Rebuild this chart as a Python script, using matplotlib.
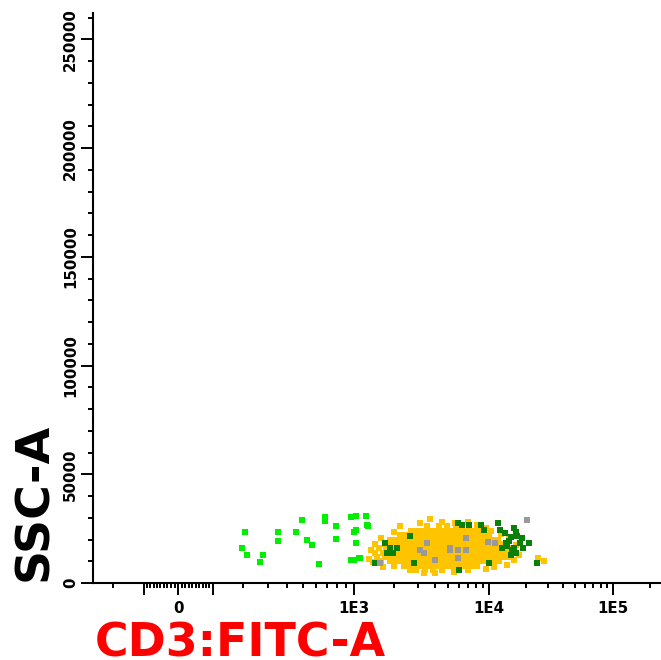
import numpy as np
import matplotlib
matplotlib.use('Agg')
import matplotlib.pyplot as plt

# ---- data (CD3:FITC-A, SSC-A) ----
# bright green population (CD3 low)
brightFitc = [205, 195, 215, 265, 280, 350, 350, 455, 495, 530, 570, 630, 680, 680,
              790, 790, 960, 1030, 1230, 1270, 1000, 1030, 1030, 960, 1000, 1100, 1260, 1110]
brightSsc = [23400, 15900, 12700, 9600, 12700, 23400, 19200, 23400, 29200, 19600, 17600, 8800,
             30300, 28300, 26100, 20300, 30300, 31000, 31000, 26100, 23400, 24200, 18300,
             10700, 10700, 11600, 26500, 11700]

# dark green events, mostly on the right edge of the main cloud
darkFitc = [5900, 6300, 7200, 8700, 9300, 11800, 12300, 13500, 16000, 16600, 15200, 17900,
            16000, 13700, 12900, 19000, 21000, 16600, 15200, 24500, 10000, 6000, 2800,
            1710, 1850, 1970, 1780, 1450, 2620, 2100, 14500, 18500, 14000, 15500, 17000]
darkSsc = [27800, 26500, 26500, 26500, 24200, 27400, 24200, 22800, 25500, 23300, 21000, 18200,
           16300, 18200, 16300, 16300, 18200, 13600, 12700, 9400, 9400, 5750, 9400,
           18200, 16300, 14000, 13600, 9400, 21800, 16300, 19500, 20500, 17000, 15000, 21500]

# gray events inside the cloud
grayFitc = [3500, 3100, 3300, 5200, 5200, 5950, 6800, 6800, 4000, 5950, 11200, 20300, 1570, 9800]
graySsc = [18200, 15000, 13600, 16300, 15000, 15400, 20500, 15000, 10800, 11700, 18600, 29200,
           9400, 19000]

# main (yellow) cloud, one list of FITC values per SSC level
yellowSscLevels = [26000, 24000, 22000, 20000, 18000, 16000, 14000, 12000, 10000, 8000, 6000]
yellowFitcRows = [
    [3500, 4300, 4900, 5700, 6400],
    [2650, 2900, 3200, 3500, 3800, 4150, 4500, 4900, 5350, 5800, 6300, 6900, 7600, 8400],
    [2200, 2450, 2700, 2950, 3250, 3550, 3850, 4200, 4600, 5000, 5450, 5950, 6500, 7100,
     7700, 8400, 9200, 10100],
    [1850, 2050, 2250, 2450, 2700, 2950, 3200, 3500, 3800, 4150, 4550, 4950, 5400, 5900,
     6400, 7000, 7650, 8350, 9100, 9900, 10800, 11800],
    [1700, 1900, 2100, 2300, 2500, 2750, 3000, 3250, 3550, 3900, 4250, 4650, 5050, 5500,
     6000, 6550, 7150, 7800, 8500, 9300, 10100, 11000, 12000, 13200],
    [1550, 1750, 1950, 2150, 2350, 2600, 2850, 3100, 3400, 3700, 4050, 4400, 4800, 5250,
     5700, 6250, 6800, 7450, 8100, 8850, 9650, 10500, 11500, 12500, 13700, 15000],
    [1450, 1650, 1850, 2050, 2250, 2450, 2700, 2950, 3250, 3550, 3850, 4200, 4600, 5000,
     5450, 5950, 6500, 7100, 7750, 8450, 9200, 10000, 10900, 11900, 13000, 14300, 15700],
    [1500, 1700, 1900, 2100, 2300, 2500, 2750, 3000, 3300, 3600, 3950, 4300, 4700, 5100,
     5600, 6100, 6650, 7250, 7900, 8600, 9400, 10300, 11200, 12300, 13500, 14800],
    [1600, 1850, 2050, 2250, 2450, 2700, 2950, 3200, 3500, 3850, 4200, 4550, 5000, 5450,
     5950, 6500, 7100, 7700, 8400, 9200, 10000, 11000, 12100],
    [2000, 2350, 2600, 2850, 3100, 3400, 3700, 4050, 4400, 4800, 5250, 5750, 6300, 6900,
     7500, 8200],
    [2900, 3400, 3900, 4500],
]
# sparse yellow events around the cloud
yellowExtraFitc = [1300, 1350, 1400, 1450, 1600, 1650, 2000, 2200, 2600, 3100, 3700, 4500,
                   5600, 7000, 8200, 9500, 10500, 12500, 14500, 16500, 17500, 16000, 14000,
                   11000, 9500, 7000, 5500, 4000, 25000, 28000, 3300]
yellowExtraSsc = [11000, 15000, 9500, 18000, 20500, 7500, 23500, 26000, 6000, 27500, 29500,
                  28000, 27800, 28200, 26500, 25500, 24000, 22500, 21000, 17500, 13000, 10500,
                  8500, 7500, 6500, 6000, 5000, 4800, 11500, 10000, 4500]

# axis ticks
xMajorTicks = [-100, 0, 100, 1000, 10000, 100000]
xMajorLabels = ['', '0', '', '1E3', '1E4', '1E5']
xMinorTicks = ([-200] + [-v for v in range(10, 100, 10)] + list(range(10, 100, 10))
               + list(range(200, 1000, 100)) + list(range(2000, 10000, 1000))
               + list(range(20000, 100000, 10000)) + [200000])
yMajorTicks = list(range(0, 250001, 50000))
yMinorTicks = list(range(0, 262144, 10000))
axisMax = 262144

# ---- biexponential-like display scale for the FITC axis ----
anchorVal = np.array([0, 100, 1000, 1e4, 1e5, 1e6])
anchorU = np.arcsinh(anchorVal / 200.0)
anchorPos = np.array([0, 34.5, 176, 311, 435, 559])


def biexFwd(x):
    x = np.asarray(x, dtype=float)
    return np.sign(x) * np.interp(np.arcsinh(np.abs(x) / 200.0), anchorU, anchorPos)


def biexInv(p):
    p = np.asarray(p, dtype=float)
    return np.sign(p) * 200.0 * np.sinh(np.interp(np.abs(p), anchorPos, anchorU))


yellowFitc = [v for row in yellowFitcRows for v in row] + yellowExtraFitc
yellowSsc = [lvl for lvl, row in zip(yellowSscLevels, yellowFitcRows) for _ in row] + yellowExtraSsc

plt.rcParams['font.family'] = 'DejaVu Sans'
plt.rcParams['font.weight'] = 'bold'

fig = plt.figure(figsize=(6.61, 6.60), dpi=100)
ax = fig.add_axes([93 / 661, 77 / 660, 571.4 / 661, 570 / 660])
ax.set_xscale('function', functions=(biexFwd, biexInv))

dotSize = 14
ax.scatter(yellowFitc, yellowSsc, s=22, marker='s', color='#ffc400', linewidths=0)
ax.scatter(darkFitc, darkSsc, s=dotSize, marker='s', color='#0a7f0a', linewidths=0)
ax.scatter(grayFitc, graySsc, s=dotSize, marker='s', color='#999999', linewidths=0)
ax.scatter(brightFitc, brightSsc, s=dotSize, marker='s', color='#00ee00', linewidths=0)

ax.set_xlim(-280, axisMax)
ax.set_ylim(0, axisMax)

ax.spines['top'].set_visible(False)
ax.spines['right'].set_visible(False)
ax.spines['left'].set_linewidth(1.5)
ax.spines['bottom'].set_linewidth(1.5)

ax.set_xticks(xMajorTicks, labels=xMajorLabels)
ax.set_xticks(xMinorTicks, minor=True)
ax.set_yticks(yMajorTicks, labels=[str(v) for v in yMajorTicks])
ax.set_yticks(yMinorTicks, minor=True)
ax.tick_params(which='major', length=8.3, width=1.4, labelsize=10.8, pad=5)
ax.tick_params(which='minor', length=3.6, width=1.4)
ax.tick_params(axis='y', which='major', pad=2.5)
plt.setp(ax.get_yticklabels(), rotation=90, va='center')

ax.set_xlabel('CD3:FITC-A', loc='left', color='#ff0000', fontsize=33, fontweight='bold')
ax.xaxis.set_label_coords(0.003, -0.068)
ax.set_ylabel('SSC-A', loc='bottom', color='black', fontsize=34, fontweight='bold')
ax.yaxis.set_label_coords(-0.063, 0.003)

fig.savefig('out.png', dpi=100, facecolor='white')
